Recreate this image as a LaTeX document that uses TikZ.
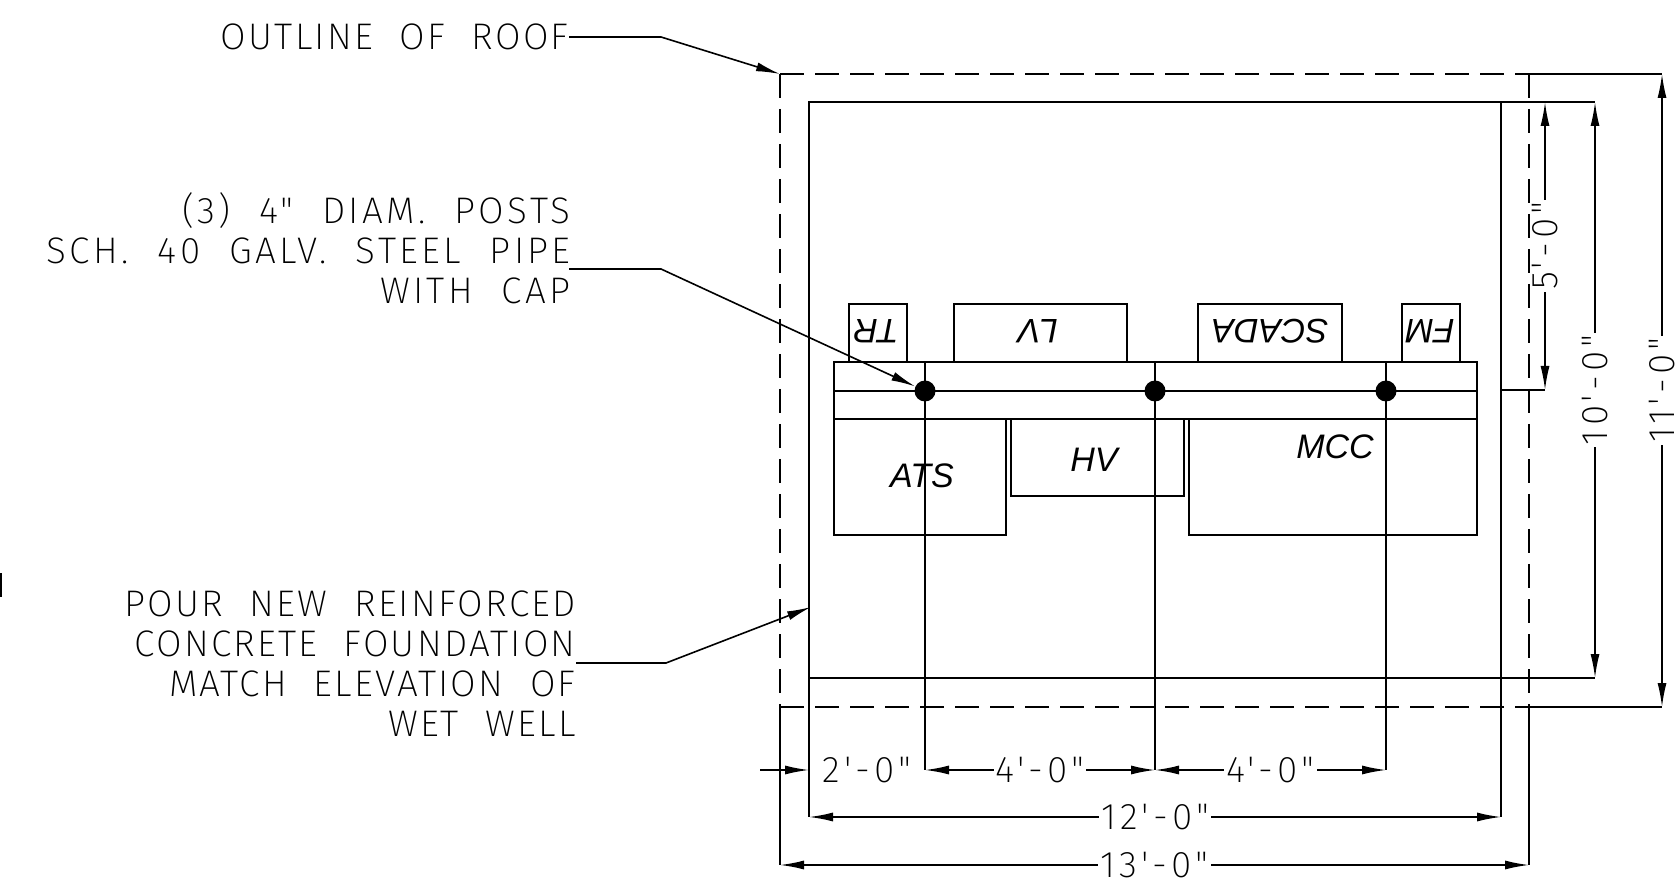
\documentclass[tikz,border=0pt]{standalone}
\usepackage{fontspec}
\usepackage{tikz}
\usetikzlibrary{arrows.meta,calc}
\setmainfont{Liberation Sans}
\newfontfamily\cadfont[LetterSpace=6,WordSpace=2.1]{Fira Sans ExtraLight}
\newfontfamily\pipefont[LetterSpace=9,WordSpace=2.1]{Fira Sans ExtraLight}
\newfontfamily\dimfont[LetterSpace=11]{Fira Sans ExtraLight}
\tikzset{
	wire/.style={line width=0.8pt},
	outline/.style={line width=0.8pt, dash pattern=on 12pt off 5.5pt},
	dimline/.style={line width=0.8pt, {Latex[length=12pt,width=4.5pt]}-{Latex[length=12pt,width=4.5pt]}},
	leader/.style={line width=0.8pt, -{Latex[length=12pt,width=4.5pt]}},
	note/.style={align=right, inner sep=0pt, font=\cadfont\fontsize{18.5pt}{20pt}\selectfont},
	dimtext/.style={fill=white, inner sep=1pt, font=\dimfont\fontsize{18.5pt}{20pt}\selectfont},
	unitlabel/.style={inner sep=0pt, font=\fontsize{17pt}{20pt}\selectfont\itshape},
	post/.style={circle, fill=black, inner sep=0pt, minimum size=10.5pt}
}
\begin{document}
\begin{tikzpicture}[x=0.5pt, y=-0.5pt]
		\useasboundingbox (0,0) rectangle (1675,881);
		\draw[outline] (780,74) -- (1529,74);
		\draw[outline] (780,707) -- (1529,707);
		\draw[outline] (780,74) -- (780,707);
		\draw[outline] (1529,74) -- (1529,707);
		\draw[wire] (809,102) rectangle (1501,678);
		\draw[wire] (834,362) rectangle (1477,419);
		\draw[wire] (834,391) -- (1477,391);
		\draw[wire] (849,362) |- (907,304) -- (907,362);
		\draw[wire] (954,362) |- (1127,304) -- (1127,362);
		\draw[wire] (1198,362) |- (1342,304) -- (1342,362);
		\draw[wire] (1402,362) |- (1460,304) -- (1460,362);
		\draw[wire] (834,419) rectangle (1006,535);
		\draw[wire] (1011,419) rectangle (1184,496);
		\draw[wire] (1189,419) rectangle (1477,535);
		\draw[wire] (1,573) -- (1,597);

		\node[unitlabel] (ATS) at (922,476) {ATS};
		\node[unitlabel] (HV) at (1094,460) {HV};
		\node[unitlabel] (MCC) at (1335,447) {MCC};
		\node[unitlabel, rotate=180] (TR) at (876,331) {TR};
		\node[unitlabel, rotate=180] (LV) at (1038,331) {LV};
		\node[unitlabel, rotate=180] (SCADA) at (1270,331) {SCADA};
		\node[unitlabel, rotate=180] (FM) at (1430,331) {FM};

		\node[post] (P1) at (925,391) {};
		\node[post] (P2) at (1155,391) {};
		\node[post] (P3) at (1386,391) {};

		\coordinate (Y1) at (925,362);
		\coordinate (Y2) at (1155,362);
		\coordinate (Y3) at (1386,362);
		\coordinate (D0) at (760,770);
		\coordinate (D1) at (809,770);
		\coordinate (D2) at (925,770);
		\coordinate (D3) at (1155,770);
		\coordinate (D4) at (1386,770);
		\coordinate (FL) at (809,817);
		\coordinate (FR) at (1501,817);
		\coordinate (RL) at (780,865);
		\coordinate (RR) at (1529,865);
		\draw[wire] (Y1) -- (D2);
		\draw[wire] (Y2) -- (D3);
		\draw[wire] (Y3) -- (D4);
		\draw[wire] (809,678) -- (FL);
		\draw[wire] (1501,678) -- (FR);
		\draw[wire] (780,707) -- (RL);
		\draw[wire] (1529,707) -- (RR);

		\draw[leader] (D0) -- (D1);
		\node[dimtext] (Dim2) at (867,770) {2'-0"};
		\draw[dimline] (D2) -- (D3) node[midway, dimtext]{4'-0"};
		\draw[dimline] (D3) -- (D4) node[midway, dimtext]{4'-0"};
		\draw[dimline] (FL) -- (FR) node[midway, dimtext]{12'-0"};
		\draw[dimline] (RL) -- (RR) node[midway, dimtext]{13'-0"};

		\coordinate (T0) at (1662,74);
		\coordinate (T1) at (1595,102);
		\coordinate (T2) at (1545,102);
		\coordinate (B0) at (1662,707);
		\coordinate (B1) at (1595,678);
		\coordinate (B2) at (1545,390);
		\draw[wire] (1529,74) -- (T0);
		\draw[wire] (1501,102) -- (T1);
		\draw[wire] (1529,707) -- (B0);
		\draw[wire] (1501,678) -- (B1);
		\draw[wire] (1501,390) -- (B2);
		\draw[dimline] (B2) -- (T2) node[pos=0.5, dimtext, rotate=90]{5'-0"};
		\draw[dimline] (B1) -- (T1) node[midway, dimtext, rotate=90]{10'-0"};
		\draw[dimline] (B0) -- (T0) node[midway, dimtext, rotate=90]{11'-0"};

		\node[note, anchor=east] (RoofNote) at (569,37) {OUTLINE OF ROOF};
		\node[note, anchor=east, font=\pipefont\fontsize{18.5pt}{20pt}\selectfont] (PostNote) at (571,248) {(3) 4" DIAM. POSTS\\SCH. 40 GALV. STEEL PIPE\\WITH CAP};
		\node[note, anchor=east] (SlabNote) at (576,664) {POUR NEW REINFORCED\\CONCRETE FOUNDATION\\MATCH ELEVATION OF\\WET WELL};
		\coordinate (RoofBend) at (661,37);
		\coordinate (RoofTip) at (780,74);
		\coordinate (PostStart) at (569,269);
		\coordinate (PostBend) at (661,269);
		\coordinate (SlabStart) at (576,663);
		\coordinate (SlabBend) at (666,663);
		\coordinate (SlabTip) at (811,607);
		\draw[leader] (RoofNote.east) -- (RoofBend) -- (RoofTip);
		\draw[leader] (PostStart) -- (PostBend) -- (P1);
		\draw[leader] (SlabStart) -- (SlabBend) -- (SlabTip);
	\end{tikzpicture}
\end{document}
